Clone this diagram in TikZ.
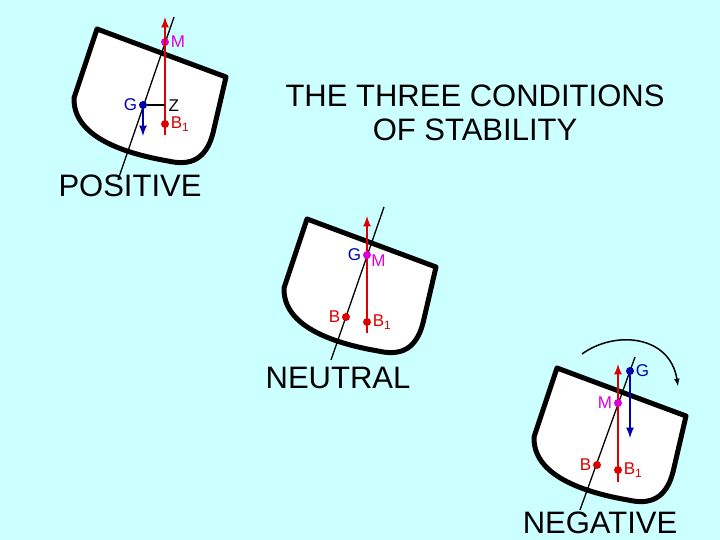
\documentclass[tikz,border=0pt]{standalone}
\usepackage{fontspec}
\setmainfont{Liberation Sans}
\begin{document}
\begin{tikzpicture}[x=1pt,y=-1pt,
  hull/.style={line width=5pt,fill=white,line join=round},
  cl/.style={line width=1.3pt},
  lab/.style={font=\fontsize{17}{17}\selectfont,inner sep=1.5pt},
  big/.style={font=\fontsize{31}{31}\selectfont,align=center},
  dot/.style={circle,inner sep=0pt,minimum size=8pt},
  >={latex}]
\definecolor{bg}{RGB}{204,255,255}
\definecolor{rd}{RGB}{220,0,0}
\definecolor{bl}{RGB}{0,0,170}
\definecolor{mg}{RGB}{220,0,220}
\newcommand{\bone}{B\textsubscript{1}}
\fill[bg] (0,0) rectangle (720,540);
\useasboundingbox (0,0) rectangle (720,540);
\tikzset{pics/hull/.style={code={
  \draw[hull] (97,29) -- (226,77) -- (213,133) .. controls (206,160) and (190,166) .. (168,161)
     .. controls (122,153) and (73,136) .. (74,98) -- cycle;}}}
% POSITIVE
\pic at (0,0) {hull};
\coordinate (c1a) at (174,17); \coordinate (c1b) at (118,180);
\draw[cl] (c1a) -- (c1b);
\node[dot,fill=bl] (G1) at (143,105) {};
\node[dot,fill=mg] (M1) at (165,42) {};
\node[dot,fill=rd] (B11) at (165,124) {};
\coordinate (Z1) at (165,105);
\coordinate (t1) at (165,17); \coordinate (e1) at (165,135);
\draw[rd,line width=2.5pt,->] (e1) -- (t1);
\draw[line width=1.5pt] (G1) -- (Z1);
\coordinate (g1d) at (143,136);
\draw[bl,line width=2.5pt,->] (G1) -- (g1d);
\node[lab,text=bl,anchor=east] at (G1.west) {G};
\node[lab,anchor=west] at (167,106) {Z};
\node[lab,text=mg,anchor=west] at (M1.east) {M};
\node[lab,text=rd,anchor=west] at (B11.east) {\bone};
\node[big] (title) at (475,113) {THE THREE CONDITIONS\\[3pt]OF STABILITY};
\node[big] (pos) at (130,186) {POSITIVE};
% NEUTRAL
\pic at (210,190) {hull};
\coordinate (c2a) at (384,207); \coordinate (c2b) at (331,360);
\draw[cl] (c2a) -- (c2b);
\coordinate (t2) at (367,216); \coordinate (e2) at (367,333);
\draw[rd,line width=2.5pt,->] (e2) -- (t2);
\node[dot,fill=mg] (M2) at (367,255) {};
\node[dot,fill=rd] (B2) at (346,317) {};
\node[dot,fill=rd] (B12) at (367,322) {};
\node[lab,text=bl,anchor=east] at (M2.west) {G};
\node[lab,text=mg,anchor=north west,inner sep=0pt] at (M2.east) {M};
\node[lab,text=rd,anchor=east] at (B2.west) {B};
\node[lab,text=rd,anchor=west] at (B12.east) {\bone};
\node[big] (neu) at (338,378) {NEUTRAL};
% NEGATIVE
\pic at (460,339) {hull};
\coordinate (c3a) at (635,357); \coordinate (c3b) at (580,510);
\draw[cl] (c3a) -- (c3b);
\coordinate (t3) at (618,364); \coordinate (e3) at (618,482);
\draw[rd,line width=2.5pt,->] (e3) -- (t3);
\node[dot,fill=bl] (G3) at (630,371) {};
\coordinate (g3d) at (630,438);
\draw[bl,line width=2.5pt,->] (G3) -- (g3d);
\node[dot,fill=mg] (M3) at (618,403) {};
\node[dot,fill=rd] (B3) at (597,465) {};
\node[dot,fill=rd] (B13) at (618,470) {};
\node[lab,text=bl,anchor=west] at (G3.east) {G};
\node[lab,text=mg,anchor=east] at (M3.west) {M};
\node[lab,text=rd,anchor=east] at (B3.west) {B};
\node[lab,text=rd,anchor=west] at (B13.east) {\bone};
\coordinate (a1) at (582,354); \coordinate (a2) at (678,386);
\draw[line width=1.5pt,->] (a1) .. controls (615,330) and (670,335) .. (a2);
\node[big] (neg) at (600,523) {NEGATIVE};
\end{tikzpicture}
\end{document}
